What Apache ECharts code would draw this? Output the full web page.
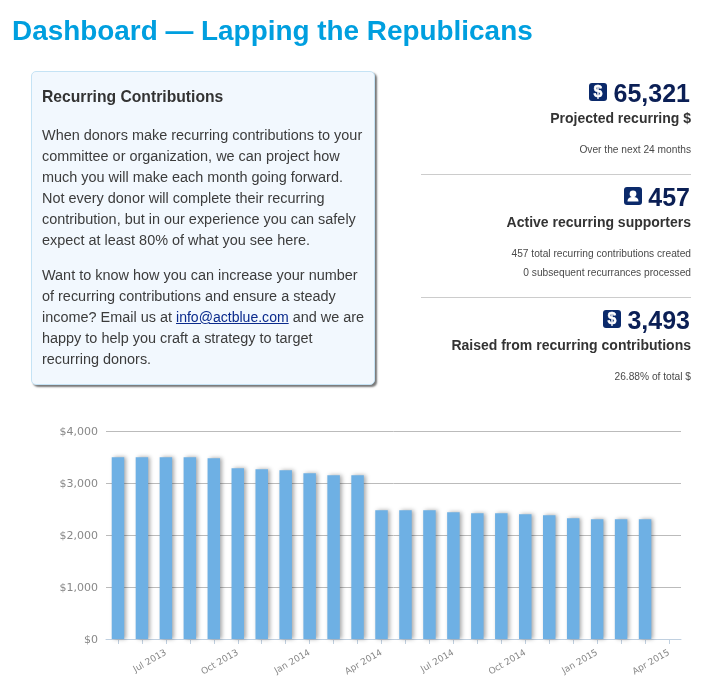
<!DOCTYPE html>
<html>
<head>
<meta charset="utf-8">
<script src="https://cdn.jsdelivr.net/npm/echarts@6/dist/echarts.min.js"></script>
<style>
html,body{margin:0;padding:0;background:#fff;width:723px;height:699px;overflow:hidden;font-family:"Liberation Sans",Arial,sans-serif}
#chart{position:absolute;left:0;top:0;width:723px;height:699px}
h1{position:absolute;left:12px;top:15px;margin:0;font-size:27.9px;line-height:32px;font-weight:bold;color:#009fdf;white-space:nowrap}
.box{position:absolute;left:31px;top:71px;width:344px;height:314px;box-sizing:border-box;background:#f2f8fe;border:1px solid #c5e3f5;border-radius:5px;box-shadow:2px 2px 2px #777;color:#3c3c3c;font-size:14.45px;line-height:21px}
.box h2{position:absolute;left:10px;top:14px;margin:0;font-size:15.7px;line-height:21px;font-weight:bold;white-space:nowrap;color:#333}
.box p{position:absolute;left:10px;margin:0;white-space:nowrap}
.box a{color:#0a2a8c;text-decoration:underline;font-size:14.05px}
.stat{position:absolute;right:32px;text-align:right;white-space:nowrap}
.num{font-size:25px;line-height:28px;font-weight:bold;color:#0b1f55;right:33px}
.lab{font-size:14px;line-height:18px;font-weight:bold;color:#333}
.sm{font-size:10.2px;line-height:12px;color:#4a4a4a}
.ico{position:absolute;width:18px;height:18px;background:#0b2a6b;border-radius:3px;color:#fff;font:bold 16px/18px "Liberation Sans",Arial,sans-serif;text-align:center;-webkit-text-stroke:.4px #fff}
.rule{position:absolute;left:421px;width:270px;height:1px;background:#ccc}
</style>
</head>
<body>
<div id="chart"></div>
<h1>Dashboard — Lapping the Republicans</h1>
<div class="box">
<h2>Recurring Contributions</h2>
<p style="top:53px">When donors make recurring contributions to your<br>committee or organization, we can project how<br>much you will make each month going forward.<br>Not every donor will complete their recurring<br>contribution, but in our experience you can safely<br>expect at least 80% of what you see here.</p>
<p style="top:193px">Want to know how you can increase your number<br>of recurring contributions and ensure a steady<br>income? Email us at <a href="#">info@actblue.com</a> and we are<br>happy to help you craft a strategy to target<br>recurring donors.</p>
</div>

<div class="ico" style="left:589px;top:83px">$</div>
<div class="stat num" style="top:79px">65,321</div>
<div class="stat lab" style="top:109px">Projected recurring $</div>
<div class="stat sm" style="top:144px">Over the next 24 months</div>
<div class="rule" style="top:174px"></div>

<div class="ico" style="left:624px;top:187px"><svg width="18" height="18" viewBox="0 0 18 18" style="display:block"><circle cx="9" cy="6.8" r="3.4" fill="#fff"/><path d="M3.5 14.5c0-3.2 2.4-4.4 5.5-4.4s5.5 1.2 5.5 4.4z" fill="#fff"/></svg></div>
<div class="stat num" style="top:183px">457</div>
<div class="stat lab" style="top:213px">Active recurring supporters</div>
<div class="stat sm" style="top:248px">457 total recurring contributions created</div>
<div class="stat sm" style="top:267px">0 subsequent recurrances processed</div>
<div class="rule" style="top:297px"></div>

<div class="ico" style="left:603px;top:310px">$</div>
<div class="stat num" style="top:306px">3,493</div>
<div class="stat lab" style="top:336px">Raised from recurring contributions</div>
<div class="stat sm" style="top:371px">26.88% of total $</div>

<script>
var months = ["May 2013","Jun 2013","Jul 2013","Aug 2013","Sep 2013","Oct 2013","Nov 2013","Dec 2013","Jan 2014","Feb 2014","Mar 2014","Apr 2014","May 2014","Jun 2014","Jul 2014","Aug 2014","Sep 2014","Oct 2014","Nov 2014","Dec 2014","Jan 2015","Feb 2015","Mar 2015","Apr 2015"];
var projected = [3493,3493,3493,3493,3474,3282,3263,3244,3186,3147,3147,2474,2474,2474,2436,2417,2417,2397,2378,2320,2301,2301,2301,null];
var yTicks = [0,1000,2000,3000,4000];

var chart = echarts.init(document.getElementById('chart'), null, {renderer:'canvas'});
chart.setOption({
  animation:false,
  grid:{left:106,right:42,top:431,bottom:60,containLabel:false},
  xAxis:{
    type:'category',
    data:months,
    boundaryGap:true,
    axisLine:{show:true,lineStyle:{color:'#c0d0e0',width:1}},
    axisTick:{show:true,alignWithLabel:true,interval:0,length:5,lineStyle:{color:'#c0d0e0'}},
    axisLabel:{
      interval:function(i){return (i-2)%3===0;},
      rotate:30,margin:13,
      fontFamily:'DejaVu Sans',fontSize:9,color:'#888'
    },
    splitLine:{show:false}
  },
  yAxis:{
    type:'value',min:yTicks[0],max:yTicks[yTicks.length-1],interval:1000,
    axisLine:{show:false},axisTick:{show:false},
    axisLabel:{margin:8,
      formatter:function(v){return '{v|$'+v.toLocaleString('en-US')+'}';},
      rich:{v:{padding:[3,0,0,0],fontFamily:'DejaVu Sans',fontSize:11,color:'#888'}}},
    splitLine:{show:true,lineStyle:{color:'#bbb',width:1}}
  },
  series:[{
    type:'bar',
    data:projected,
    barWidth:12.5,
    itemStyle:{color:'#6eb0e4',shadowColor:'rgba(0,0,0,0.35)',shadowBlur:4,shadowOffsetX:2,shadowOffsetY:0}
  }]
});
</script>
</body>
</html>
